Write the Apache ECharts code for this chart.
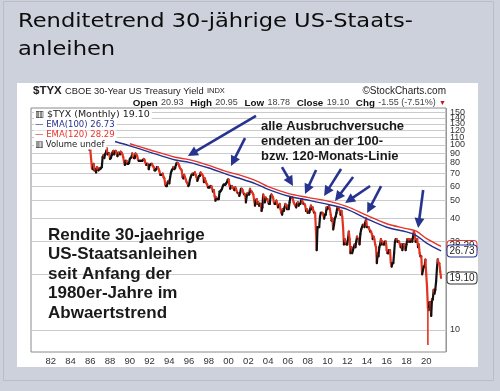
<!DOCTYPE html>
<html><head><meta charset="utf-8">
<script src="https://cdn.jsdelivr.net/npm/echarts@6/dist/echarts.min.js"></script>
<style>html,body{margin:0;padding:0;background:#cdd1db;}#c{width:500px;height:391px;}</style>
</head><body><div id="c"></div>
<script>
// ---- data (yield x10, monthly closes from Jan 1986) ----
const startYear = 1986;
const closes1986 = [94, 84, 75, 74, 79, 73, 74, 71, 76, 74, 73, 75];
const closes1987 = [74, 75, 76, 86, 88, 85, 89, 91, 96, 89, 90, 90];
const closes1988 = [84, 85, 88, 91, 93, 89, 92, 93, 90, 87, 91, 90];
const closes1989 = [89, 92, 91, 89, 86, 81, 78, 82, 82, 79, 79, 80];
const closes1990 = [84, 85, 86, 90, 86, 85, 85, 90, 89, 87, 83, 82];
const closes1991 = [82, 82, 82, 82, 83, 84, 83, 80, 78, 79, 79, 74];
const closes1992 = [78, 78, 79, 79, 77, 76, 73, 73, 74, 76, 76, 74];
const closes1993 = [72, 69, 69, 69, 70, 67, 66, 61, 60, 60, 63, 64];
const closes1994 = [62, 67, 71, 73, 74, 76, 74, 75, 78, 80, 80, 79];
const closes1995 = [77, 75, 74, 73, 67, 66, 69, 67, 65, 63, 62, 60];
const closes1996 = [61, 65, 67, 69, 70, 69, 70, 71, 69, 67, 64, 66];
const closes1997 = [68, 68, 71, 70, 69, 68, 63, 66, 64, 62, 61, 59];
const closes1998 = [59, 59, 60, 60, 58, 56, 57, 53, 50, 52, 51, 51];
const closes1999 = [51, 56, 56, 57, 58, 60, 61, 61, 61, 62, 63, 65];
const closes2000 = [65, 61, 58, 60, 60, 59, 58, 57, 59, 58, 56, 55];
const closes2001 = [55, 53, 55, 58, 58, 57, 55, 54, 54, 49, 53, 55];
const closes2002 = [54, 54, 58, 56, 56, 55, 54, 50, 47, 50, 51, 48];
const closes2003 = [49, 47, 48, 48, 44, 46, 54, 52, 49, 52, 51, 51];
const closes2004 = [49, 48, 48, 53, 54, 53, 52, 49, 48, 48, 50, 48];
const closes2005 = [46, 47, 48, 45, 43, 42, 45, 44, 46, 48, 47, 45];
const closes2006 = [47, 45, 49, 52, 52, 52, 51, 49, 48, 47, 46, 48];
const closes2007 = [49, 47, 48, 48, 50, 51, 49, 48, 48, 47, 44, 45];
const closes2008 = [43, 44, 43, 45, 47, 45, 46, 44, 43, 43, 35, 27];
const closes2009 = [36, 36, 36, 41, 43, 43, 43, 42, 40, 42, 42, 46];
const closes2010 = [45, 46, 47, 45, 42, 39, 40, 35, 37, 40, 41, 43];
const closes2011 = [46, 45, 45, 44, 42, 44, 41, 36, 29, 31, 30, 29];
const closes2012 = [29, 31, 34, 31, 26, 28, 26, 27, 28, 29, 28, 30];
const closes2013 = [32, 31, 31, 29, 33, 35, 36, 37, 37, 36, 38, 40];
const closes2014 = [36, 36, 36, 35, 34, 34, 33, 31, 32, 31, 29, 28];
const closes2015 = [23, 26, 25, 28, 29, 31, 29, 30, 29, 29, 30, 30];
const closes2016 = [27, 26, 26, 27, 27, 23, 22, 23, 23, 26, 30, 31];
const closes2017 = [31, 30, 30, 30, 29, 28, 29, 27, 29, 29, 28, 27];
const closes2018 = [29, 31, 30, 31, 30, 30, 31, 30, 32, 34, 33, 30];
const closes2019 = [30, 31, 28, 29, 26, 25, 25, 20, 21, 22, 22, 24];
const closes2020 = [20, 17, 13.2, 12.8, 14.1, 14.1, 11.9, 14.7, 14.6, 16.5, 15.7, 16.5];
const closes2021 = [18.3, 21.5, 24.1, 23.0, 22.9, 20.65, 19.10];
// notable monthly extreme (March 2020 low)
const spikeLows = [[2020 + 2/12, 13.2, 8.3]];

const ema100 = [[1988.5,104.5],[1990,99],[1992,91.6],[1994.6,83],[1996,80.6],[1998,75.1],[1999.9,69.1],[2001,66.3],[2002.8,61.5],[2004,57.6],[2006,53],[2008,50.4],[2010.3,47.4],[2012,44.9],[2014,39.9],[2016,35.9],[2018,33.9],[2019,32.4],[2020,29.6],[2021.5,26.73]];
const ema120 = [[1990,101.6],[1992,94.3],[1994.6,85.8],[1996,83.3],[1998,77.6],[1999.9,71.5],[2001,69.1],[2002.8,64],[2004,59.5],[2006,54.8],[2008,52.1],[2010.3,49.4],[2012,46.4],[2014,41.6],[2016,37.5],[2018,35.3],[2019,34.2],[2020,31.3],[2021.5,28.29]];

const yTicks = [10,20,30,40,50,60,70,80,90,100,110,120,130,140,150];
const lastClose = 19.10, lastEma100 = 26.73, lastEma120 = 28.29;
// annotation arrows: [tailYear, tailValue, headYear, headValue]
const arrows = [
  [2002.77,143.5,1995.88,87.2],
  [2001.66,109,2000.24,77.0],
  [2005.4,76.0,2006.52,60.0],
  [2008.85,73.3,2007.73,54.3],
  [2011.38,74.2,2009.66,53.0],
  [2012.6,67.1,2010.77,49.8],
  [2014.32,60.0,2011.79,48.6],
  [2015.43,60.0,2014.02,42.9],
  [2019.69,57.1,2019.18,35.6]
];

const closes = [].concat(closes1986,closes1987,closes1988,closes1989,closes1990,closes1991,closes1992,closes1993,closes1994,closes1995,closes1996,closes1997,closes1998,closes1999,closes2000,closes2001,closes2002,closes2003,closes2004,closes2005,closes2006,closes2007,closes2008,closes2009,closes2010,closes2011,closes2012,closes2013,closes2014,closes2015,closes2016,closes2017,closes2018,closes2019,closes2020,closes2021);
const priceData = closes.map((c,i)=>[startYear + i/12, i===0 ? c : closes[i-1], c]);

const RED = '#e3321f', BLACK = '#111', NAVY = '#25328f', EMARED = '#e8352b', ARROW = '#27348e';
const FONT = 'Liberation Sans, Arial, sans-serif';

const chart = echarts.init(document.getElementById('c'), null, {renderer:'canvas'});
chart.setOption({
  animation: false,
  backgroundColor: '#cdd1db',
  grid: {left: 31, right: 54, top: 108, bottom: 39, show: true, backgroundColor: '#fff', borderColor: '#8a8a8a', borderWidth: 1, z: 1},
  xAxis: {
    type: 'value', min: 1980, max: 2022, interval: 1,
    axisLine: {show: false}, axisTick: {show: false},
    axisLabel: {fontSize: 9.5, color: '#333', fontFamily: FONT, margin: 4, showMinLabel: false, showMaxLabel: false,
      formatter: v => (v % 2 === 0 && v >= 1982 && v <= 2020) ? String(v).slice(2) : ''},
    splitLine: {show: true, lineStyle: {color: ['#a9a9a9', '#d6d6d6'], width: 1}}
  },
  yAxis: {
    type: 'log', logBase: 10, min: 7.6, max: 158.5, position: 'right',
    axisLine: {show: false}, axisTick: {show: false}, axisLabel: {show: false}, splitLine: {show: false}
  },
  series: [
    { type: 'line', data: [], z: 1, silent: true,
      markLine: { silent: true, symbol: ['none','none'], animation: false,
        lineStyle: {color: '#cbcbcb', width: 1, type: 'solid'},
        label: {show: true, position: 'end', distance: 4, fontSize: 9, color: '#333', fontFamily: FONT, formatter: p => p.value},
        data: yTicks.map(v => ({yAxis: v}))
      }
    },
    { type: 'custom', data: priceData, clip: true, z: 5,
      encode: {x: 0, y: [1, 2]},
      renderItem(params, api) {
        const x = api.value(0), o = api.value(1), c = api.value(2);
        const p0 = api.coord([x - 1/12, o]);
        const p1 = api.coord([x, c]);
        return {type: 'line', shape: {x1: p0[0], y1: p0[1], x2: p1[0], y2: p1[1]},
          style: {stroke: c < o ? RED : BLACK, lineWidth: 2.2, lineCap: 'round'}};
      }
    },
    { type: 'custom', data: spikeLows, clip: true, z: 5,
      encode: {x: 0, y: [1, 2]},
      renderItem(params, api) {
        const p0 = api.coord([api.value(0), api.value(1)]);
        const p1 = api.coord([api.value(0), api.value(2)]);
        return {type: 'line', shape: {x1: p0[0], y1: p0[1], x2: p1[0], y2: p1[1]}, style: {stroke: RED, lineWidth: 1.6}};
      }
    },
    { type: 'line', name: 'EMA(120)', data: ema120, smooth: 0.3, showSymbol: false, z: 6,
      lineStyle: {color: EMARED, width: 1.4},
      markPoint: { symbol: 'rect', symbolSize: 1, itemStyle: {color: 'rgba(0,0,0,0)'},
        label: {show: true, position: 'right', distance: 1, fontSize: 10, fontFamily: FONT, color: '#222',
          backgroundColor: '#fff', borderColor: EMARED, borderWidth: 1, borderRadius: 3, padding: [1,2,0,2], formatter: () => lastEma120.toFixed(2)},
        data: [{coord: [2022, lastEma120]}]
      }
    },
    { type: 'line', name: 'EMA(100)', data: ema100, smooth: 0.3, showSymbol: false, z: 7,
      lineStyle: {color: NAVY, width: 1.4},
      markPoint: { symbol: 'rect', symbolSize: 1, itemStyle: {color: 'rgba(0,0,0,0)'},
        label: {show: true, position: 'right', distance: 1, fontSize: 10, fontFamily: FONT, color: '#222',
          backgroundColor: '#fff', borderColor: NAVY, borderWidth: 1, borderRadius: 3, padding: [1,2,0,2]},
        data: [
          {coord: [2022, lastEma100], label: {formatter: () => lastEma100.toFixed(2)}},
          {coord: [2022, lastClose], label: {formatter: () => lastClose.toFixed(2), borderColor: '#333'}}
        ]
      }
    },
    { type: 'custom', data: arrows, clip: false, z: 20, silent: true,
      encode: {x: [0, 2], y: [1, 3]},
      renderItem(params, api) {
        const t = api.coord([api.value(0), api.value(1)]);
        const h = api.coord([api.value(2), api.value(3)]);
        const dx = h[0] - t[0], dy = h[1] - t[1];
        const len = Math.sqrt(dx*dx + dy*dy) || 1;
        const ux = dx/len, uy = dy/len;
        const hl = 10, hw = 5;
        const bx = h[0] - ux*hl, by = h[1] - uy*hl;
        return {type: 'group', children: [
          {type: 'line', shape: {x1: t[0], y1: t[1], x2: bx + ux*1, y2: by + uy*1}, style: {stroke: ARROW, lineWidth: 2.6}},
          {type: 'polygon', shape: {points: [[h[0], h[1]], [bx - uy*hw, by + ux*hw], [bx + uy*hw, by - ux*hw]]}, style: {fill: ARROW}}
        ]};
      }
    }
  ],
  graphic: [
    {type: 'rect', z: -10, shape: {x: 3.5, y: 1.5, width: 490, height: 379}, style: {fill: '#cdd1db', stroke: '#b9bdc8', lineWidth: 1}},
    {type: 'rect', z: -9, shape: {x: 17, y: 83, width: 461, height: 284}, style: {fill: '#fff'}},
    {type: 'text', z: 50, x: 18, y: 8, scaleX: 1.13, style: {text: 'Renditetrend 30-jährige US-Staats-\nanleihen', fontSize: 20, fontFamily: 'DejaVu Sans', lineHeight: 28, fill: '#0d0d0d'}},
    {type: 'text', z: 50, x: 33, y: 91, style: {text: '{b|$TYX} {n|CBOE 30-Year US Treasury Yield} {s|INDX}', textVerticalAlign: 'middle', fill: '#222',
      rich: {b: {fontSize: 11.5, fontWeight: 'bold', fontFamily: FONT}, n: {fontSize: 9.3, fontFamily: FONT}, s: {fontSize: 7.5, fontFamily: FONT}}}},
    {type: 'text', z: 50, x: 446, y: 91, style: {text: '©StockCharts.com', textAlign: 'right', textVerticalAlign: 'middle', fontSize: 10, fontFamily: FONT, fill: '#222'}},
    {type: 'text', z: 50, x: 446, y: 103, style: {text: '{b|Open} {n|20.93}  {b|High} {n|20.95}  {b|Low} {n|18.78}  {b|Close} {n|19.10}  {b|Chg} {n|-1.55 (-7.51%)} {r|▼}', textAlign: 'right', textVerticalAlign: 'middle', fill: '#222',
      rich: {b: {fontSize: 9.8, fontWeight: 'bold', fontFamily: FONT, fill: '#111'}, n: {fontSize: 9, fontFamily: FONT, fill: '#444'}, r: {fontSize: 7, fill: '#c0141c'}}}},
    {type: 'text', z: 50, x: 34, y: 115, style: {text: '▥ $TYX (Monthly) 19.10', textVerticalAlign: 'middle', fontSize: 9.5, fontFamily: 'DejaVu Sans', fill: '#222', backgroundColor: '#fff', padding: [0, 2, 0, 1]}},
    {type: 'text', z: 50, x: 34, y: 125, style: {text: '— EMA(100) 26.73', textVerticalAlign: 'middle', fontSize: 8.5, fontFamily: 'DejaVu Sans', fill: NAVY, backgroundColor: '#fff', padding: [0, 2, 0, 1]}},
    {type: 'text', z: 50, x: 34, y: 135, style: {text: '— EMA(120) 28.29', textVerticalAlign: 'middle', fontSize: 8.5, fontFamily: 'DejaVu Sans', fill: EMARED, backgroundColor: '#fff', padding: [0, 2, 0, 1]}},
    {type: 'text', z: 50, x: 34, y: 145, style: {text: '▥ Volume undef', textVerticalAlign: 'middle', fontSize: 8.5, fontFamily: 'DejaVu Sans', fill: '#222', backgroundColor: '#fff', padding: [0, 2, 0, 1]}},
    {type: 'text', z: 50, x: 261, y: 118.5, style: {text: 'alle Ausbruchversuche\nendeten an der 100-\nbzw. 120-Monats-Linie', fontSize: 13, fontWeight: 'bold', fontFamily: FONT, lineHeight: 15, fill: '#1a1a1a'}},
    {type: 'text', z: 50, x: 48, y: 225.5, style: {text: 'Rendite 30-jaehrige\nUS-Staatsanleihen\nseit Anfang der\n1980er-Jahre im\nAbwaertstrend', fontSize: 17, fontWeight: 'bold', fontFamily: FONT, lineHeight: 19.5, fill: '#1a1a1a'}}
  ]
});
</script></body></html>
